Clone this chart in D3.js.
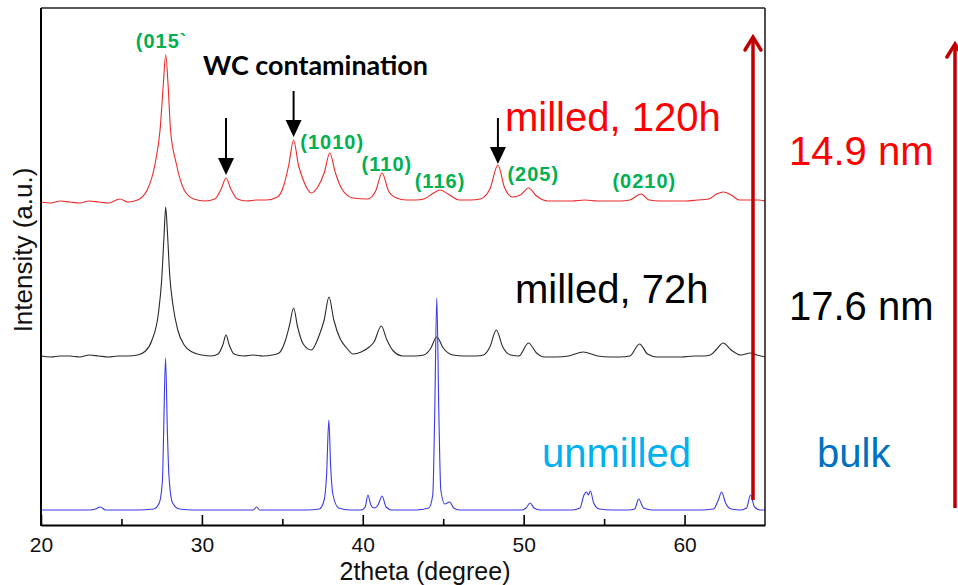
<!DOCTYPE html>
<html>
<head>
<meta charset="utf-8">
<script src="https://cdn.jsdelivr.net/npm/d3@7"></script>
<style>
  body { margin: 0; background: #fff; }
  svg { display: block; font-family: "Liberation Sans", Arial, sans-serif; }
</style>
</head>
<body>
<svg id="chart" width="958" height="585"></svg>
<script>
// XRD patterns, [2theta, intensity (a.u., stacked)]
const milled120h = [
  [20.0,323],[20.6,322],[21.2,324],[21.8,323],[22.4,322],[23.0,324],[23.6,323],[24.2,322],[24.9,326],[25.4,323],
  [26.0,325],[26.6,335],[27.1,362],[27.4,395],[27.6,440],[27.75,470],[27.9,440],[28.05,395],[28.4,362],[28.9,335],
  [29.5,326],[30.2,324],[30.8,326],[31.2,336],[31.5,347],[31.8,336],[32.2,326],[32.8,324],[33.4,325],[34.0,325],
  [34.7,328],[35.1,340],[35.4,360],[35.7,385],[36.0,360],[36.3,345],[36.8,332],[37.2,338],[37.6,352],[37.95,372],
  [38.3,352],[38.7,336],[39.4,327],[40.3,326],[40.8,334],[41.2,352],[41.6,334],[42.1,327],[42.7,325],[43.3,325],
  [43.8,326],[44.4,332],[44.8,335],[45.3,331],[46.0,325],[46.7,325],[47.3,326],[47.9,336],[48.4,360],[48.8,338],
  [49.3,328],[49.8,330],[50.3,337],[50.8,329],[51.5,324],[52.3,324],[53.0,324],[53.8,325],[54.6,324],[55.4,324],
  [56.0,324],[56.6,325],[57.3,331],[57.8,325],[58.5,324],[59.3,324],[60.1,324],[60.8,325],[61.5,326],[62.0,331],
  [62.4,333],[62.9,330],[63.4,325],[64.0,325],[64.6,325],[65.0,324]
];

const milled72h = [
  [20.0,169],[20.6,168],[21.2,169],[21.8,169],[22.4,168],[23.0,170],[23.6,169],[24.2,168],[24.8,169],[25.4,169],
  [26.0,170],[26.5,174],[26.9,185],[27.3,212],[27.5,245],[27.65,290],[27.75,318],[27.85,295],[28.0,250],[28.2,220],
  [28.5,195],[28.9,180],[29.4,173],[30.0,170],[30.6,169],[31.0,171],[31.3,180],[31.5,190],[31.7,180],[32.0,171],
  [32.6,169],[33.2,170],[33.8,169],[34.4,170],[34.8,172],[35.2,185],[35.45,200],[35.7,217],[35.95,198],[36.3,181],
  [36.8,175],[37.3,190],[37.6,205],[37.9,228],[38.2,205],[38.6,186],[39.0,177],[39.4,171],[39.9,173],[40.4,178],
  [40.7,183],[41.15,199],[41.5,185],[41.9,174],[42.5,169],[43.2,169],[43.8,170],[44.2,176],[44.6,188],[45.0,177],
  [45.6,170],[46.3,169],[47.0,169],[47.5,170],[47.9,178],[48.3,195],[48.7,178],[49.2,170],[49.7,169],[50.3,182],
  [50.8,172],[51.3,168],[52.0,168],[52.8,169],[53.7,173],[54.6,169],[55.4,168],[56.0,168],[56.6,169],[57.2,181],
  [57.7,171],[58.3,168],[59.0,168],[59.8,168],[60.6,169],[61.2,169],[61.6,170],[62.0,176],[62.4,182],[62.9,175],
  [63.5,170],[64.1,172],[64.5,170],[65.0,168]
];

const unmilled = [
  [20.0,15],[21.0,15],[22.0,15],[23.0,15],[23.4,16],[23.7,18],[24.0,15],[25.0,15],[26.0,15],[27.0,16],
  [27.35,22],[27.55,45],[27.62,91],[27.74,167],[27.86,91],[27.95,50],[28.18,22],[28.6,16],[29.5,15],[30.5,15],
  [31.5,15],[32.5,15],[33.2,15],[33.4,18],[33.6,15],[34.5,15],[35.5,15],[36.5,15],[37.3,16],[37.6,25],
  [37.75,50],[37.89,105],[38.0,60],[38.15,30],[38.5,17],[39.2,15],[39.9,15],[40.15,18],[40.32,30],[40.5,20],
  [40.7,17],[40.95,20],[41.2,29],[41.45,18],[41.8,15],[42.5,15],[43.3,15],[44.1,17],[44.35,30],[44.47,110],
  [44.6,227],[44.73,110],[44.85,35],[45.1,21],[45.4,23],[45.65,17],[46.0,15],[47.0,15],[48.0,15],[49.0,15],
  [49.9,15],[50.15,17],[50.4,22],[50.65,17],[51.0,15],[52.0,15],[53.0,15],[53.5,17],[53.75,30],[53.9,33],
  [54.02,30],[54.15,34],[54.35,22],[54.7,16],[55.5,15],[56.5,15],[56.9,16],[57.15,26],[57.45,17],[58.0,15],
  [59.0,15],[60.0,15],[61.0,15],[61.8,16],[62.1,25],[62.3,33],[62.55,22],[62.9,16],[63.5,15],[63.85,17],
  [64.1,30],[64.35,18],[64.7,15],[65.0,15]
];

// reflections of the milled 120h pattern
const hklLabels = ["(015`", "(1010)", "(110)", "(116)", "(205)", "(0210)"];
const hklTheta = [27.5, 38.1, 41.5, 44.8, 50.6, 57.5];
const hklLevel = [477, 376, 354, 337, 344, 337];

// WC contamination peaks (2theta, arrow start level, arrow tip level)
const wcTheta = [31.5, 35.7, 48.4];
const wcFrom = [407, 434, 407];
const wcTo = [350, 388, 361];

const majorTicks = [20, 30, 40, 50, 60];
const minorTicks = [25, 35, 45, 55];

const width = 958, height = 585;
const margin = { top: 8, right: 193, bottom: 60, left: 41 };

const svg = d3.select("#chart");

const x = d3.scaleLinear().domain([20, 65]).range([margin.left, width - margin.right]);
const y = d3.scaleLinear().domain([0, 520]).range([height - margin.bottom, 5]);

const line = d3.line()
  .x(d => x(d[0]))
  .y(d => y(d[1]))
  .curve(d3.curveMonotoneX);

const series = [
  { data: milled120h, color: "#ec2a2a" },
  { data: milled72h, color: "#2a2a2a" },
  { data: unmilled, color: "#3a3ae6" }
];

svg.append("g").selectAll("path")
  .data(series)
  .join("path")
  .attr("d", d => line(d.data))
  .attr("fill", "none")
  .attr("stroke", d => d.color)
  .attr("stroke-width", 1.1);

// frame
const x0 = x(20), x1 = x(65), yb = y(0);
svg.append("line").attr("x1", x0).attr("x2", x1).attr("y1", margin.top).attr("y2", margin.top)
  .attr("stroke", "#222").attr("stroke-width", 1.6);
svg.append("line").attr("x1", x1).attr("x2", x1).attr("y1", margin.top).attr("y2", yb)
  .attr("stroke", "#222").attr("stroke-width", 1.6);
svg.append("line").attr("x1", x0).attr("x2", x0).attr("y1", margin.top).attr("y2", yb + 1)
  .attr("stroke", "#000").attr("stroke-width", 2);

// x axis
const xAxis = svg.append("g")
  .attr("transform", `translate(0,${yb})`)
  .call(d3.axisBottom(x).tickValues(majorTicks).tickSize(-10).tickSizeOuter(0).tickPadding(12));
xAxis.select(".domain").attr("stroke-width", 2);
xAxis.selectAll(".tick line").attr("stroke-width", 1.6);
xAxis.selectAll("text").attr("font-size", 21).attr("fill", "#111")
  .attr("font-family", "Liberation Sans, Arial, sans-serif");

svg.append("g")
  .attr("transform", `translate(0,${yb})`)
  .call(d3.axisBottom(x).tickValues(minorTicks).tickSize(-6).tickSizeOuter(0).tickFormat(""))
  .call(g => g.select(".domain").remove())
  .selectAll(".tick line").attr("stroke-width", 1.6);

svg.append("text")
  .attr("x", 425).attr("y", 580)
  .attr("text-anchor", "middle")
  .attr("font-size", 25).attr("fill", "#111")
  .text("2theta (degree)");

svg.append("text")
  .attr("transform", "translate(32,250) rotate(-90)")
  .attr("text-anchor", "middle")
  .attr("font-size", 26).attr("fill", "#111")
  .text("Intensity (a.u.)");

// hkl labels
svg.append("g").selectAll("text")
  .data(hklLabels)
  .join("text")
  .attr("x", (d, i) => x(hklTheta[i]))
  .attr("y", (d, i) => y(hklLevel[i]))
  .attr("text-anchor", "middle")
  .attr("font-size", 20)
  .attr("font-weight", "bold")
  .attr("letter-spacing", 1)
  .attr("fill", "#00b050")
  .text(d => d);

// WC contamination arrows
const wc = svg.append("g");
wcTheta.forEach((t, i) => {
  const cx = x(t), top = y(wcFrom[i]), tip = y(wcTo[i]);
  wc.append("line").attr("x1", cx).attr("x2", cx).attr("y1", top).attr("y2", tip - 12)
    .attr("stroke", "#000").attr("stroke-width", 2);
  wc.append("path")
    .attr("d", `M${cx - 8},${tip - 17}L${cx + 8},${tip - 17}L${cx},${tip}Z`)
    .attr("fill", "#000");
});

svg.append("text")
  .attr("x", 203).attr("y", 75)
  .attr("font-family", "Lato, 'Open Sans', sans-serif")
  .attr("font-weight", "bold")
  .attr("font-size", 26)
  .attr("textLength", 225)
  .attr("lengthAdjust", "spacingAndGlyphs")
  .attr("fill", "#000")
  .text("WC contamination");

// sample and crystallite size labels
const labels = [
  { t: "milled, 120h", x: 505, y: 131, c: "#ff0000" },
  { t: "14.9 nm", x: 789, y: 165, c: "#ff0000" },
  { t: "milled, 72h", x: 515, y: 303, c: "#000000" },
  { t: "17.6 nm", x: 789, y: 320, c: "#000000" },
  { t: "unmilled", x: 542, y: 467, c: "#00b0f0" },
  { t: "bulk", x: 817, y: 467, c: "#0070c0" }
];
svg.append("g").selectAll("text")
  .data(labels)
  .join("text")
  .attr("x", d => d.x).attr("y", d => d.y)
  .attr("font-size", 40)
  .attr("fill", d => d.c)
  .text(d => d.t);

// size trend arrows
function upArrow(ax, yBottom, yTip) {
  svg.append("line").attr("x1", ax).attr("x2", ax).attr("y1", yBottom).attr("y2", yTip + 2)
    .attr("stroke", "#c00000").attr("stroke-width", 3.5);
  svg.append("path")
    .attr("d", `M${ax - 8},${yTip + 14}L${ax},${yTip + 1}L${ax + 8},${yTip + 14}`)
    .attr("fill", "none").attr("stroke", "#c00000").attr("stroke-width", 3.5)
    .attr("stroke-linecap", "round").attr("stroke-linejoin", "miter");
}
upArrow(753, 500, 36);
upArrow(955, 508, 43);
</script>
</body>
</html>
